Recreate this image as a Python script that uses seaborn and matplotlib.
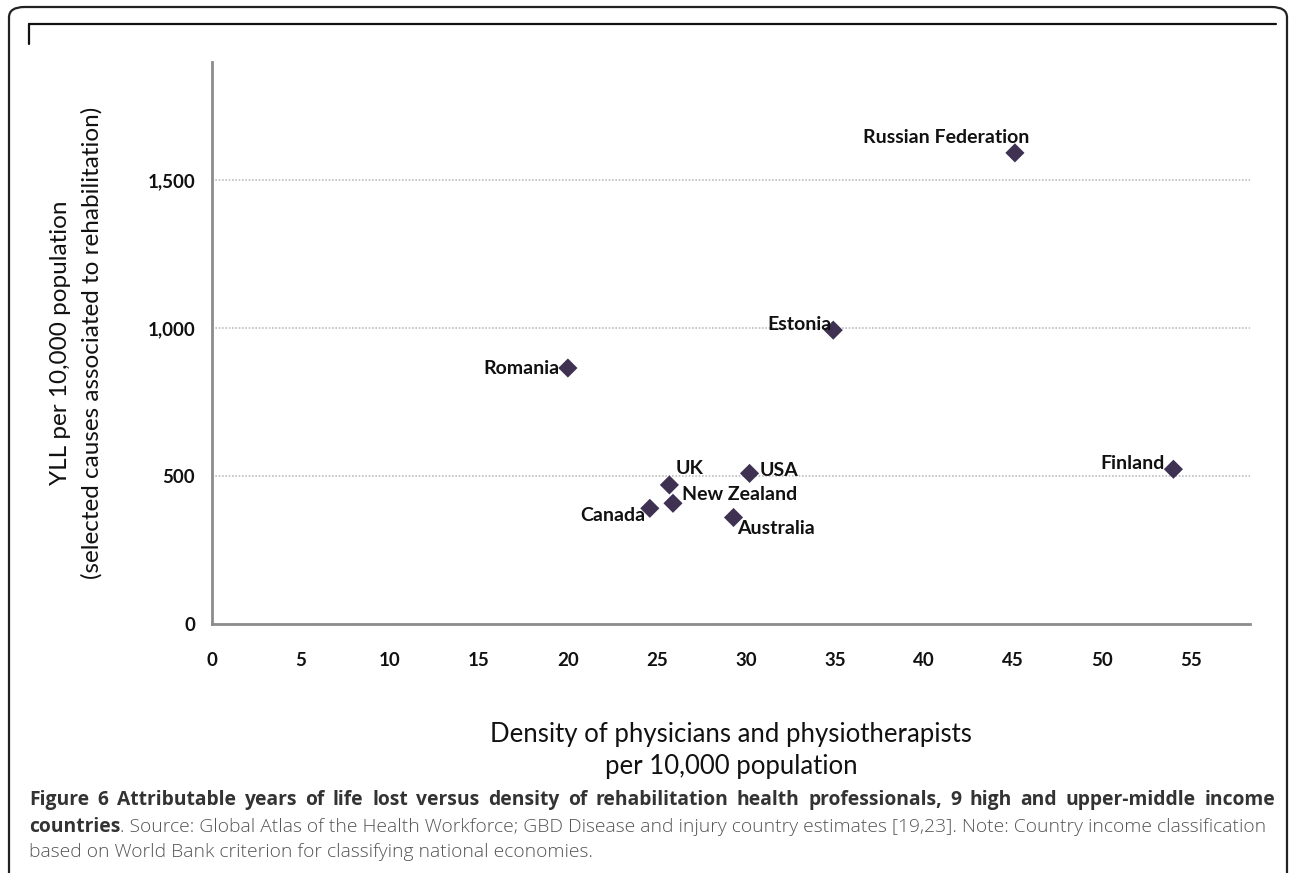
import matplotlib
matplotlib.use("Agg")
import matplotlib.pyplot as plt
import seaborn as sns
import pandas as pd
from matplotlib.patches import FancyBboxPatch
from matplotlib.lines import Line2D
from matplotlib.ticker import FuncFormatter

# data
countries = ["Russian Federation", "Estonia", "Romania", "UK", "New Zealand",
             "Canada", "USA", "Australia", "Finland"]
density = [45.1, 34.9, 20.0, 25.7, 25.9, 24.6, 30.2, 29.3, 54.0]
yll = [1592, 993, 865, 470, 408, 391, 509, 360, 523]

x_ticks = [0, 5, 10, 15, 20, 25, 30, 35, 40, 45, 50, 55]
y_ticks = [0, 500, 1000, 1500]

# label placement (offset in pixels from marker, horizontal alignment)
label_pos = {
    "Russian Federation": (14, 15, "right"),
    "Estonia": (-2, 6, "right"),
    "Romania": (-8, 0, "right"),
    "UK": (6, 16, "left"),
    "New Zealand": (9, 9, "left"),
    "Canada": (-4, -7, "right"),
    "USA": (10, 3, "left"),
    "Australia": (4, -11, "left"),
    "Finland": (-9, 6, "right"),
}

df = pd.DataFrame({"country": countries, "density": density, "yll": yll})

sns.set_style("white")
plt.rcParams["font.family"] = ["Lato", "DejaVu Sans"]

fig = plt.figure(figsize=(12.9, 8.73), dpi=100)
ax = fig.add_axes([0.1641, 0.2852, 0.969 - 0.1641, 0.9293 - 0.2852])

sns.scatterplot(data=df, x="density", y="yll", marker="D", s=95,
                color="#3f3151", edgecolor="none", ax=ax, zorder=3)

for c, xv, yv in zip(countries, density, yll):
    dx, dy, ha = label_pos[c]
    ax.annotate(c, (xv, yv), xytext=(dx, dy), textcoords="offset pixels",
                ha=ha, va="center", fontsize=14, fontweight="bold",
                color="#111111", zorder=4)

ax.set_xlim(0, 58.3)
ax.set_ylim(0, 1900)
ax.set_xticks(x_ticks)
ax.set_yticks(y_ticks)
ax.yaxis.set_major_formatter(FuncFormatter(lambda v, p: f"{int(v):,}"))

ax.yaxis.grid(True, linestyle=(0, (1, 1)), color="#bdbdbd", linewidth=1.2)
ax.xaxis.grid(False)
for s in ["top", "right"]:
    ax.spines[s].set_visible(False)
for s in ["left", "bottom"]:
    ax.spines[s].set_color("#8c8c8c")
    ax.spines[s].set_linewidth(2)

ax.tick_params(axis="both", direction="out", length=5, width=1.5,
               color="#8c8c8c", labelsize=13.5, labelcolor="#111111")
ax.tick_params(axis="x", pad=15)
ax.tick_params(axis="y", pad=7)
for t in ax.get_xticklabels() + ax.get_yticklabels():
    t.set_fontweight("bold")

ax.set_xlabel("Density of physicians and physiotherapists\nper 10,000 population",
              fontsize=18.5, color="#111111", labelpad=38, linespacing=1.38)
ax.set_ylabel("YLL per 10,000 population\n(selected causes associated to rehabilitation)",
              fontsize=17.5, color="#111111", labelpad=32, linespacing=1.6)

# figure frame
frame = FancyBboxPatch((9 / 1290, -0.05), 1278 / 1290, (873 - 7) / 873 + 0.05,
                       boxstyle="round,pad=0,rounding_size=0.012",
                       transform=fig.transFigure, fill=False,
                       edgecolor="#222222", linewidth=1.6, clip_on=False)
fig.patches.append(frame)
fig.lines.append(Line2D([29 / 1290, 1276 / 1290], [1 - 24 / 873, 1 - 24 / 873],
                        transform=fig.transFigure, color="#111111", linewidth=1.6))
fig.lines.append(Line2D([29 / 1290, 29 / 1290], [1 - 24 / 873, 1 - 44 / 873],
                        transform=fig.transFigure, color="#111111", linewidth=1.6))

# caption
cap_font = ["Open Sans", "DejaVu Sans"]
cap_size = 13.9
line1 = ("Figure 6 Attributable years of life lost versus density of rehabilitation "
         "health professionals, 9 high and upper-middle income").split()
left_px, right_px = 29, 1275
renderer = fig.canvas.get_renderer()
words = [fig.text(0, 1 - 800 / 873, w, fontsize=cap_size, fontweight="bold",
                  family=cap_font, color="#333333", va="center")
         for w in line1]
widths = [w.get_window_extent(renderer).width for w in words]
gap = (right_px - left_px - sum(widths)) / (len(words) - 1)
xpos = left_px
for w, wd in zip(words, widths):
    w.set_x(xpos / 1290)
    xpos += wd + gap

b = fig.text(left_px / 1290, 1 - 827 / 873, "countries", fontsize=cap_size,
             fontweight="bold", family=cap_font, color="#333333", va="center")
bw = b.get_window_extent(renderer).width
fig.text((left_px + bw) / 1290, 1 - 827 / 873,
         ". Source: Global Atlas of the Health Workforce; GBD Disease and injury "
         "country estimates [19,23]. Note: Country income classification",
         fontsize=cap_size, family=cap_font, color="#555555", va="center",
         fontweight="light")
fig.text(left_px / 1290, 1 - 852 / 873,
         "based on World Bank criterion for classifying national economies.",
         fontsize=cap_size, family=cap_font, color="#555555", va="center",
         fontweight="light")

fig.savefig("out.png", dpi=100)
